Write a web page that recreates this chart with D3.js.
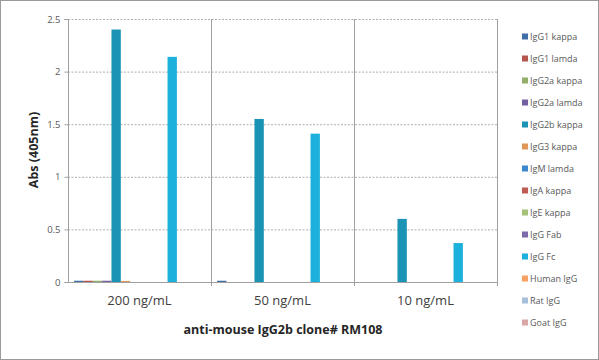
<!DOCTYPE html>
<html><head><meta charset="utf-8">
<script src="https://cdn.jsdelivr.net/npm/d3@7"></script>
<style>body{margin:0;background:#fff}svg{display:block}text{font-family:"Open Sans",sans-serif}</style>
</head><body><svg id="c" width="599" height="360"></svg>
<script>
const groups = ["200 ng/mL","50 ng/mL","10 ng/mL"];
const series = ["IgG1 kappa","IgG1 lamda","IgG2a kappa","IgG2a lamda","IgG2b kappa","IgG3 kappa","IgM lamda","IgA kappa","IgE kappa","IgG Fab","IgG Fc","Human IgG","Rat IgG","Goat IgG"];
const colors = ["#3f6fa5","#b55550","#93ad6a","#7460a0","#1a93b5","#e0975a","#3c88cc","#bf5a55","#a6c27a","#7c6aaa","#1cb0dc","#f5a262","#a9c0db","#d9a8a6"];
// values[series][group]
const values = [
  [0.012,0.012,0],
  [0.012,0,0],
  [0.012,0,0],
  [0.012,0,0],
  [2.40,1.55,0.60],
  [0.01,0,0],
  [0,0,0],
  [0,0,0],
  [0,0,0],
  [0,0,0],
  [2.14,1.41,0.37],
  [0,0,0],
  [0,0,0],
  [0,0,0]
];
const yTicks = [0,0.5,1,1.5,2,2.5];

const svg = d3.select("#c");
const L=68,R=497,T=19,B=282;
const x0 = d3.scaleBand().domain(groups).range([L,R]).padding(0);
const x1 = d3.scaleBand().domain(series).range([0,x0.bandwidth()]).paddingOuter(0.65).paddingInner(0);
const y = d3.scaleLinear().domain([0,2.5]).range([B,T]);

svg.append("rect").attr("x",0.5).attr("y",0.5).attr("width",598).attr("height",359).attr("fill","#fff").attr("stroke","#9a9a9a");

// gridlines
svg.append("g").selectAll("line").data(yTicks.filter(d=>d>0)).join("line")
  .attr("x1",L).attr("x2",R).attr("y1",d=>y(d)+0.5).attr("y2",d=>y(d)+0.5)
  .attr("stroke","#9a9a9a").attr("stroke-dasharray","2,1.5").attr("stroke-width",0.8);
// separators
svg.append("g").selectAll("line").data(groups.slice(1)).join("line")
  .attr("x1",d=>x0(d)+0.5).attr("x2",d=>x0(d)+0.5).attr("y1",T).attr("y2",B+4)
  .attr("stroke","#a0a0a0");
svg.append("line").attr("x1",R+0.5).attr("x2",R+0.5).attr("y1",T).attr("y2",B+4).attr("stroke","#a0a0a0");

// bars
const gg = svg.append("g").selectAll("g").data(groups).join("g").attr("transform",d=>`translate(${x0(d)},0)`);
gg.selectAll("rect").data((g,gi)=>series.map((s,si)=>({s,si,v:values[si][gi]}))).join("rect")
  .attr("x",d=>x1(d.s)).attr("width",x1.bandwidth())
  .attr("y",d=>y(d.v)).attr("height",d=>B-y(d.v)).attr("fill",d=>colors[d.si]);

// axes
const ya = svg.append("g").attr("transform",`translate(${L+0.5},0)`)
  .call(d3.axisLeft(y).tickValues(yTicks).tickFormat(d3.format("~g")).tickSize(4).tickPadding(4));
ya.select(".domain").attr("stroke","#a0a0a0").attr("d",`M-4,${T+0.5}H0V${B+0.5}H-4`);
ya.selectAll(".tick line").attr("stroke","#a0a0a0");
ya.selectAll(".tick text").attr("fill","#595959").attr("font-size",9.5).attr("font-family","Open Sans");

const xa = svg.append("g").attr("transform",`translate(0,${B+0.5})`)
  .call(d3.axisBottom(x0).tickSize(0).tickPadding(13));
xa.select(".domain").attr("stroke","#a0a0a0").attr("d",`M${L},0H${R}`);
xa.selectAll(".tick text").attr("fill","#404040").attr("font-size",13).attr("font-family","Open Sans");

svg.append("text").attr("transform",`translate(38,150) rotate(-90)`).attr("text-anchor","middle")
  .attr("font-size",12.5).attr("font-weight","bold").attr("fill","#262626").text("Abs (405nm)");
svg.append("text").attr("x",283).attr("y",334).attr("text-anchor","middle")
  .attr("font-size",12.5).attr("font-weight","bold").attr("fill","#262626").text("anti-mouse IgG2b clone# RM108");

// legend
const lg = svg.append("g").selectAll("g").data(series).join("g")
  .attr("transform",(d,i)=>`translate(522,${37+i*22})`);
lg.append("rect").attr("x",0).attr("y",-3.5).attr("width",6).attr("height",6).attr("fill",(d,i)=>colors[i]);
lg.append("text").attr("x",8).attr("y",3).attr("font-size",9).attr("fill","#595959").text(d=>d);
</script></body></html>
